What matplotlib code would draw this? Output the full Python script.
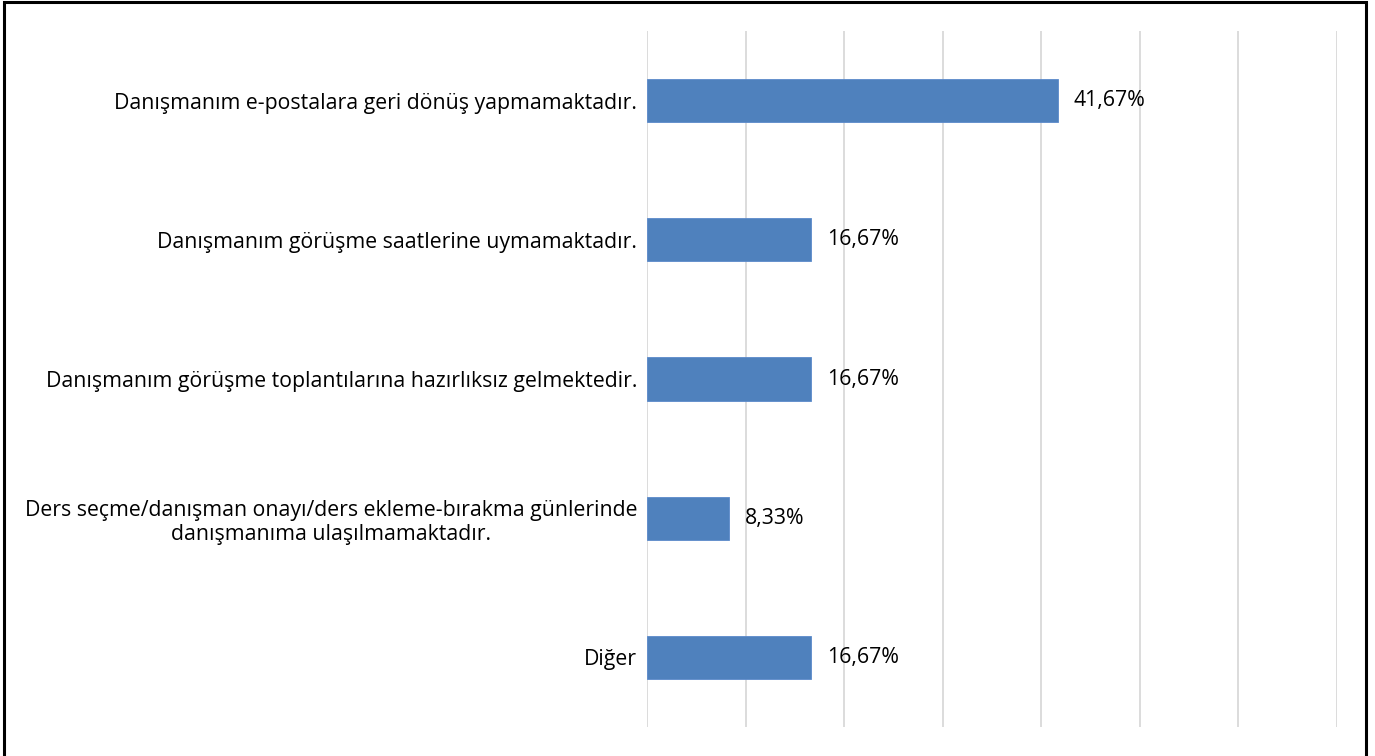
import matplotlib
matplotlib.use("Agg")
import matplotlib.pyplot as plt
from matplotlib.patches import Rectangle

categories = [
    "Danışmanım e-postalara geri dönüş yapmamaktadır.",
    "Danışmanım görüşme saatlerine uymamaktadır.",
    "Danışmanım görüşme toplantılarına hazırlıksız gelmektedir.",
    "Ders seçme/danışman onayı/ders ekleme-bırakma günlerinde\ndanışmanıma ulaşılmamaktadır.",
    "Diğer",
]
values = [41.67, 16.67, 16.67, 8.33, 16.67]
value_labels = ["41,67%", "16,67%", "16,67%", "8,33%", "16,67%"]
xticks = [0, 10, 20, 30, 40, 50, 60, 70]

W, H = 1375, 756
fig = plt.figure(figsize=(W / 100, H / 100), dpi=100)
ax = fig.add_axes([647 / W, 1 - 727 / H, (1337 - 647) / W, (727 - 31) / H])

font = "Open Sans"
fs = 15.3
ypos = list(range(len(categories)))
ax.barh(ypos, values, height=0.31, color="#4F81BD", edgecolor="#5B8ACB", linewidth=0.6, zorder=3)
ax.set_ylim(len(categories) - 0.5, -0.5)
ax.set_xlim(0, 70)
ax.set_xticks(xticks)
ax.set_xticklabels([])
ax.tick_params(axis="x", length=0)
ax.grid(axis="x", color="#D9D9D9", linewidth=1.3, zorder=0)
for s in ax.spines.values():
    s.set_visible(False)
ax.set_yticks(ypos)
ax.set_yticklabels(categories, fontfamily=font, fontsize=fs, color="#000000", ha="right",
                   multialignment="center", linespacing=1.2)
ax.tick_params(axis="y", length=0, pad=7)

for y, v, lab in zip(ypos, values, value_labels):
    ax.annotate(lab, (v, y), xytext=(16, 0), textcoords="offset pixels",
                va="center", ha="left", fontfamily=font, fontsize=fs, color="#000000")

fig.patches.append(Rectangle((4 / W, -0.05), (1366 - 4) / W, 1.05 - 2 / H,
                             transform=fig.transFigure, fill=False,
                             edgecolor="black", linewidth=2.2, figure=fig))

fig.savefig("out.png", dpi=100, facecolor="white")
